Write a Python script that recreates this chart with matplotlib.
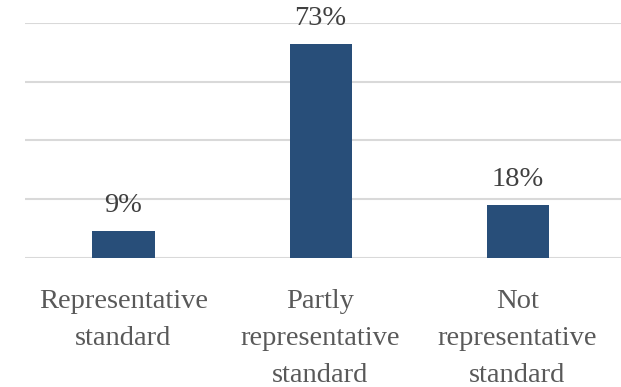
import matplotlib.pyplot as plt

# 数据
categories = ['Representative\nstandard', 'Partly\nrepresentative\nstandard', 'Not\nrepresentative\nstandard']
values = [9, 73, 18]
labels = ['9%', '73%', '18%']

plt.rcParams['font.family'] = ['Liberation Serif', 'DejaVu Serif']

fig = plt.figure(figsize=(6.21, 3.87), dpi=100)
ax = fig.add_axes([25 / 621, (387 - 257.5) / 387, 1 - 25 / 621, 234.5 / 387])

x = range(len(values))
ax.bar(x, values, width=0.315, color='#284e79', zorder=3)

# 数值标签
for xi, v, lab in zip(x, values, labels):
    ax.annotate(lab, (xi, v), xytext=(0, 13.5), textcoords='offset points',
                ha='center', va='baseline', fontsize=20.5, color='#404040')

ax.set_xlim(-0.5, 2.525)
ax.set_ylim(0, 80)
ax.set_yticks([0, 20, 40, 60, 80])
ax.yaxis.grid(True, color='#d9d9d9', linewidth=1.5, zorder=0)
ax.set_yticklabels([])
ax.tick_params(axis='y', length=0)
ax.tick_params(axis='x', length=0, pad=23)
ax.set_xticks(list(x))
ax.set_xticklabels(categories, fontsize=20.5, color='#595959', linespacing=1.62)
for spine in ax.spines.values():
    spine.set_visible(False)

plt.savefig('out.png', dpi=100)
